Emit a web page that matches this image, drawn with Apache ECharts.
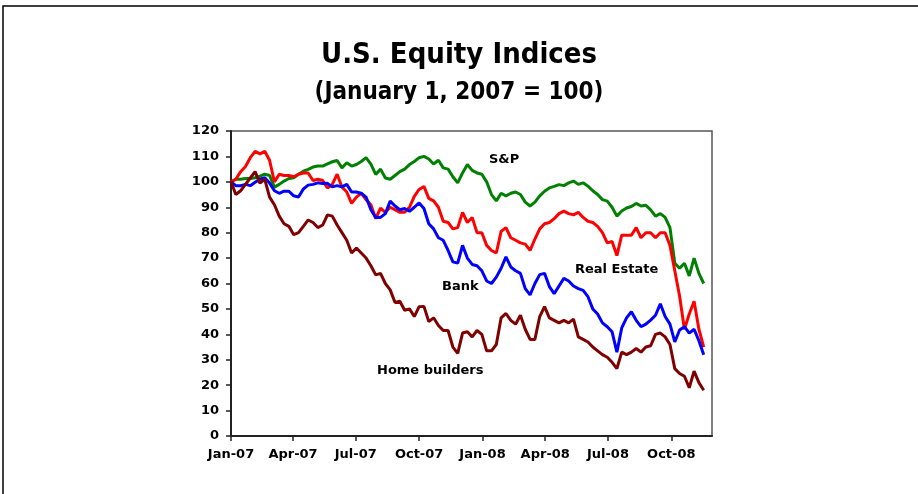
<!DOCTYPE html>
<html>
<head>
<meta charset="utf-8">
<title>U.S. Equity Indices</title>
<script src="https://cdn.jsdelivr.net/npm/echarts@6/dist/echarts.min.js"></script>
<style>
  html, body { margin: 0; padding: 0; background: #fff; }
  #chart { width: 918px; height: 494px; }
</style>
</head>
<body>
<div id="chart"></div>
<script>
// weekly readings, Jan 1 2007 = 100 (x in days since Jan 1 2007)
const weekDays = 7;
const lastDay = 698; // Nov 29, 2008

const sp = [
  100, 101, 101, 101.3, 101.3, 101.6, 102.2, 103, 102.5, 97.9, 99, 100.3, 101.3, 101.6, 103, 104.2, 104.9, 105.8, 106.2, 106.2, 107.1, 107.9, 108.4, 105.5, 107.5, 106.2,
  106.8, 108, 109.5, 107, 102.9, 105, 101.5, 101, 102.5, 104, 105, 106.8, 108, 109.5, 110, 109, 107, 108.5, 105.5, 105, 102, 99.6, 103.5, 106.8, 104.5, 103.5,
  103, 100, 95, 92.5, 95.5, 94.5, 95.5, 96, 95, 92, 90.5, 92, 94.5, 96.3, 97.6, 98.2, 98.9, 98.5, 99.6, 100.3, 99, 99.6, 98.3, 96.5, 95, 93,
  92.4, 90, 86.5, 88.5, 89.7, 90.3, 91.5, 90.5, 90.8, 89, 86.5, 87.5, 86, 82, 68, 66, 68, 63, 70, 64, 60
];
const realEstate = [
  100, 101, 104, 106, 109.5, 112, 111, 112, 108.5, 100, 103, 102.5, 102.5, 102, 103, 103.5, 103.5, 100.5, 101, 100.5, 97.6, 99, 103, 98, 96, 91.5,
  94, 95.5, 93, 91, 85.5, 89.7, 88, 90, 89, 88, 88, 90, 94.3, 97, 98.2, 93.5, 92.5, 90, 84.5, 84, 81.5, 82, 88, 84, 86, 80,
  80, 75, 73, 72, 80.5, 82, 78, 77, 76, 75.5, 73, 77.5, 81.5, 83.5, 84, 85.5, 87.5, 88.5, 87.5, 87, 88, 86, 84.5, 84, 82.5, 80,
  76, 76.5, 71, 79, 79, 79, 82, 78, 80, 80, 78, 80, 80, 75, 65, 55, 42, 48, 53, 42, 35
];
const bank = [
  100, 98.5, 98.5, 99, 98.5, 99.8, 101, 101.6, 99.5, 96.5, 95.5, 96.3, 96.3, 94.5, 94, 97.2, 98.7, 99, 99.6, 99.3, 99.4, 98, 98.5, 98, 99, 96,
  96, 95.5, 94, 89, 86, 86, 87.5, 92.4, 90.5, 89, 89.5, 88.4, 90, 91.7, 89.5, 83.5, 81.5, 78, 77, 73, 68.5, 68, 75, 70, 67.5, 67,
  65, 61, 60, 62.5, 66, 70.5, 66.5, 65, 64, 58, 55.5, 60, 63.5, 64, 58.8, 56, 59, 62, 61, 59, 58, 57.3, 54.8, 50, 48, 44.5,
  43, 41, 33, 42.5, 46.5, 48.9, 45.5, 43, 44, 45.6, 47.5, 52, 47, 44, 37, 41.7, 43, 40.5, 42, 37.5, 32
];
const homeBuilders = [
  100, 95, 96.5, 99, 101.5, 104, 99.5, 101, 94, 91, 86.5, 83.5, 82.5, 79.2, 80, 82.5, 85, 84, 82, 83, 87, 86.5, 83, 80, 77, 72,
  74, 72, 70, 67, 63.4, 64, 60, 57.5, 52.5, 53, 49.5, 50, 47, 50.9, 51, 45, 46.5, 43.5, 41.5, 41.5, 35, 32.5, 40.5, 41, 39, 41.5,
  40, 33.5, 33.5, 36, 46.5, 48.2, 45.5, 44, 47.5, 42, 38, 38, 47, 50.9, 46.5, 45.5, 44.5, 45.5, 44.5, 46, 39, 38, 37, 35, 33.5, 32,
  31, 29, 26.5, 33, 32, 33, 34.4, 33, 35, 35.5, 40, 40.5, 39, 36, 26.5, 24.6, 23.5, 19, 25.5, 21, 18
];

// quarter starts, days since Jan 1 2007
const quarterDays = [0, 90, 181, 273, 365, 456, 547, 639];
const tickLabels = ['Jan-07', 'Apr-07', 'Jul-07', 'Oct-07', 'Jan-08', 'Apr-08', 'Jul-08', 'Oct-08'];

const toPairs = (vals) => vals.map((v, i) => [i * weekDays, v]);

const labelFont = { fontFamily: 'DejaVu Sans', fontWeight: 'bold', fontSize: 13, fill: '#000' };

const chart = echarts.init(document.getElementById('chart'), null, { renderer: 'canvas' });

chart.setOption({
  backgroundColor: '#fff',
  animation: false,
  title: [
    {
      text: 'U.S. Equity Indices',
      left: 'center',
      top: 36,
      textStyle: { fontFamily: 'DejaVu Sans Condensed', fontWeight: 'bold', fontSize: 29, color: '#000' }
    },
    {
      text: '(January 1, 2007 = 100)',
      left: 'center',
      top: 76,
      textStyle: { fontFamily: 'DejaVu Sans Condensed', fontWeight: 'bold', fontSize: 24, color: '#000' }
    }
  ],
  grid: {
    left: 231,
    right: 206,
    top: 131,
    bottom: 58,
    show: true,
    borderColor: '#555',
    borderWidth: 1.5,
    backgroundColor: '#fff'
  },
  xAxis: {
    type: 'value',
    min: 0,
    max: lastDay,
    axisLine: { show: true, onZero: false, lineStyle: { color: '#222', width: 2 } },
    axisTick: { show: true, length: 5, customValues: quarterDays, lineStyle: { color: '#222', width: 1.5 } },
    axisLabel: {
      customValues: quarterDays,
      margin: 12,
      fontFamily: 'DejaVu Sans',
      fontWeight: 'bold',
      fontSize: 13,
      color: '#000',
      formatter: (val) => tickLabels[quarterDays.indexOf(val)] || ''
    },
    splitLine: { show: false }
  },
  yAxis: {
    type: 'value',
    min: 0,
    max: 120,
    interval: 10,
    axisLine: { show: true, lineStyle: { color: '#222', width: 2 } },
    axisTick: { show: true, length: 5, lineStyle: { color: '#222', width: 1.5 } },
    axisLabel: { margin: 12, fontFamily: 'DejaVu Sans', fontWeight: 'bold', fontSize: 13, color: '#000' },
    splitLine: { show: false }
  },
  series: [
    { name: 'S&P', type: 'line', data: toPairs(sp), showSymbol: false, lineStyle: { color: '#008000', width: 3 } },
    { name: 'Real Estate', type: 'line', data: toPairs(realEstate), showSymbol: false, lineStyle: { color: '#FF0000', width: 3 } },
    { name: 'Bank', type: 'line', data: toPairs(bank), showSymbol: false, lineStyle: { color: '#0000FF', width: 3 } },
    { name: 'Home builders', type: 'line', data: toPairs(homeBuilders), showSymbol: false, lineStyle: { color: '#800000', width: 3 } }
  ],
  graphic: [
    {
      type: 'rect',
      silent: true,
      shape: { x: 3, y: 6, width: 960, height: 540 },
      style: { fill: 'none', stroke: '#000', lineWidth: 1.5 }
    },
    { type: 'text', left: 489, top: 153, style: Object.assign({ text: 'S&P' }, labelFont) },
    { type: 'text', left: 575, top: 263, style: Object.assign({ text: 'Real Estate' }, labelFont) },
    { type: 'text', left: 442, top: 280, style: Object.assign({ text: 'Bank' }, labelFont) },
    { type: 'text', left: 377, top: 364, style: Object.assign({ text: 'Home builders' }, labelFont) }
  ]
});
</script>
</body>
</html>
